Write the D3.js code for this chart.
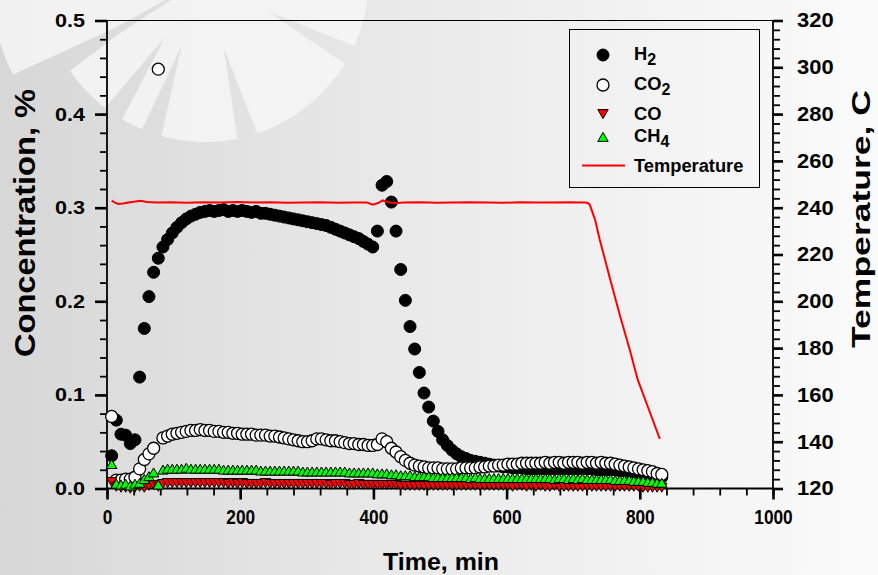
<!DOCTYPE html>
<html>
<head>
<meta charset="utf-8">
<script src="https://cdn.jsdelivr.net/npm/d3@7"></script>
<style>
  html, body { margin: 0; padding: 0; background: #e6e6e6; }
  svg { display: block; }
  text { font-family: "Liberation Sans", Arial, sans-serif; font-weight: bold; fill: #000; }
</style>
</head>
<body>
<svg id="chart" width="878" height="575"></svg>
<script>
// Sampling times of the gas analyser, min
const time = [
  7, 14, 21, 28, 35, 42, 49, 56, 63, 70,
  77, 84, 91, 98, 105, 112, 119, 126, 133, 140,
  147, 154, 161, 168, 175, 182, 189, 196, 203, 210,
  217, 224, 231, 238, 245, 252, 259, 266, 273, 280,
  287, 294, 301, 308, 315, 322, 329, 336, 343, 350,
  357, 364, 371, 378, 385, 392, 399, 406, 413, 420,
  427, 434, 441, 448, 455, 462, 469, 476, 483, 490,
  497, 504, 511, 518, 525, 532, 539, 546, 553, 560,
  567, 574, 581, 588, 595, 602, 609, 616, 623, 630,
  637, 644, 651, 658, 665, 672, 679, 686, 693, 700,
  707, 714, 721, 728, 735, 742, 749, 756, 763, 770,
  777, 784, 791, 798, 805, 812, 819, 826, 833
];

// Gas concentrations, %
const h2 = [
  0.035, 0.073, 0.058, 0.057, 0.048, 0.052, 0.119, 0.171, 0.205, 0.231,
  0.246, 0.258, 0.266, 0.273, 0.279, 0.284, 0.288, 0.291, 0.293, 0.295,
  0.296, 0.297, 0.296, 0.297, 0.298, 0.296, 0.297, 0.296, 0.297, 0.296,
  0.295, 0.296, 0.294, 0.294, 0.293, 0.292, 0.291, 0.290, 0.289, 0.288,
  0.287, 0.286, 0.285, 0.284, 0.283, 0.282, 0.281, 0.279, 0.277, 0.275,
  0.273, 0.271, 0.269, 0.267, 0.264, 0.261, 0.258, 0.275, 0.324, 0.328,
  0.306, 0.275, 0.234, 0.201, 0.173, 0.149, 0.124, 0.102, 0.087, 0.072,
  0.061, 0.052, 0.046, 0.041, 0.037, 0.034, 0.032, 0.030, 0.029, 0.028,
  0.027, 0.026, 0.025, 0.024, 0.023, 0.023, 0.022, 0.022, 0.022, 0.021,
  0.021, 0.021, 0.021, 0.021, 0.021, 0.021, 0.021, 0.021, 0.021, 0.021,
  0.021, 0.021, 0.021, 0.021, 0.020, 0.020, 0.020, 0.020, 0.020, 0.019,
  0.019, 0.018, 0.018, 0.017, 0.016, 0.015, 0.014, 0.013, 0.012
];

const co2 = [
  0.077, 0.009, 0.009, 0.010, 0.010, 0.012, 0.021, 0.031, 0.037, 0.043,
  0.448, 0.054, 0.056, 0.058, 0.059, 0.060, 0.061, 0.062, 0.062, 0.063,
  0.062, 0.062, 0.061, 0.061, 0.060, 0.060, 0.059, 0.059, 0.058, 0.058,
  0.058, 0.057, 0.057, 0.057, 0.056, 0.056, 0.055, 0.054, 0.053, 0.052,
  0.051, 0.050, 0.050, 0.051, 0.053, 0.053, 0.052, 0.051, 0.051, 0.050,
  0.049, 0.048, 0.048, 0.047, 0.047, 0.046, 0.046, 0.047, 0.053, 0.050,
  0.043, 0.039, 0.034, 0.030, 0.027, 0.025, 0.024, 0.023, 0.022, 0.022,
  0.022, 0.021, 0.021, 0.021, 0.021, 0.022, 0.022, 0.022, 0.022, 0.023,
  0.023, 0.024, 0.024, 0.025, 0.025, 0.026, 0.026, 0.026, 0.027, 0.027,
  0.027, 0.027, 0.027, 0.028, 0.027, 0.028, 0.028, 0.027, 0.028, 0.028,
  0.028, 0.027, 0.028, 0.028, 0.027, 0.028, 0.027, 0.027, 0.026, 0.025,
  0.024, 0.023, 0.022, 0.021, 0.020, 0.019, 0.018, 0.016, 0.015
];

const co = [
  0.008, 0.003, 0.002, 0.002, 0.001, 0.002, 0.003, 0.002, 0.004, 0.005,
  0.003, 0.006, 0.007, 0.007, 0.007, 0.007, 0.007, 0.007, 0.007, 0.007,
  0.007, 0.007, 0.007, 0.007, 0.007, 0.006, 0.007, 0.006, 0.007, 0.006,
  0.006, 0.006, 0.006, 0.007, 0.006, 0.006, 0.006, 0.006, 0.006, 0.006,
  0.006, 0.006, 0.006, 0.006, 0.006, 0.006, 0.006, 0.005, 0.006, 0.006,
  0.006, 0.005, 0.005, 0.006, 0.005, 0.005, 0.005, 0.005, 0.005, 0.005,
  0.005, 0.005, 0.004, 0.004, 0.004, 0.004, 0.004, 0.004, 0.004, 0.004,
  0.004, 0.004, 0.004, 0.004, 0.004, 0.004, 0.004, 0.004, 0.004, 0.004,
  0.004, 0.004, 0.004, 0.004, 0.004, 0.004, 0.003, 0.004, 0.004, 0.003,
  0.004, 0.003, 0.004, 0.003, 0.003, 0.004, 0.003, 0.003, 0.003, 0.003,
  0.003, 0.003, 0.003, 0.003, 0.003, 0.003, 0.003, 0.003, 0.003, 0.003,
  0.003, 0.003, 0.003, 0.003, 0.002, 0.002, 0.002, 0.002, 0.002
];

const ch4 = [
  0.025, 0.004, 0.003, 0.004, 0.002, 0.004, 0.005, 0.009, 0.012, 0.016,
  0.003, 0.019, 0.020, 0.020, 0.020, 0.020, 0.021, 0.020, 0.020, 0.020,
  0.020, 0.020, 0.020, 0.020, 0.019, 0.019, 0.019, 0.019, 0.019, 0.019,
  0.019, 0.019, 0.018, 0.018, 0.018, 0.018, 0.018, 0.018, 0.018, 0.018,
  0.018, 0.017, 0.017, 0.017, 0.017, 0.017, 0.017, 0.017, 0.017, 0.017,
  0.017, 0.016, 0.016, 0.016, 0.016, 0.016, 0.016, 0.015, 0.015, 0.015,
  0.014, 0.014, 0.013, 0.013, 0.013, 0.012, 0.012, 0.012, 0.012, 0.011,
  0.011, 0.011, 0.011, 0.011, 0.011, 0.011, 0.011, 0.010, 0.011, 0.010,
  0.010, 0.010, 0.010, 0.010, 0.010, 0.010, 0.010, 0.010, 0.010, 0.010,
  0.010, 0.010, 0.010, 0.010, 0.010, 0.009, 0.010, 0.010, 0.009, 0.010,
  0.009, 0.010, 0.009, 0.009, 0.009, 0.009, 0.009, 0.009, 0.008, 0.008,
  0.008, 0.008, 0.007, 0.007, 0.007, 0.006, 0.006, 0.005, 0.005
];

// Reactor temperature log
const tempTime = [
  7, 12, 17, 24, 32, 40, 50, 60, 75, 95,
  120, 145, 170, 195, 220, 245, 270, 295, 320, 345,
  370, 390, 399, 407, 414, 422, 432, 445, 470, 495,
  520, 545, 570, 595, 620, 645, 670, 695, 710, 718,
  722, 725, 733, 740, 755, 770, 785, 797, 815, 830
];
const temperature = [
  243.0, 242.2, 241.6, 241.8, 242.2, 242.5, 243.0, 242.4, 242.2, 242.3,
  242.1, 242.3, 242.2, 242.4, 242.2, 242.3, 242.1, 242.2, 242.3, 242.1,
  242.2, 242.2, 241.3, 242.0, 243.1, 242.3, 241.9, 242.2, 242.3, 242.1,
  242.2, 242.3, 242.2, 242.1, 242.3, 242.2, 242.2, 242.3, 242.2, 242.2,
  242.0, 241.2, 234.7, 226.2, 210.0, 194.1, 179.2, 166.4, 152.7, 141.2
];

// Axis ticks
const xTicks = [0, 200, 400, 600, 800, 1000];
const yLeftTicks = [0.0, 0.1, 0.2, 0.3, 0.4, 0.5];
const yRightTicks = [120, 140, 160, 180, 200, 220, 240, 260, 280, 300, 320];

const W = 878, H = 575;
const plot = { left: 107, right: 773, top: 20.5, bottom: 488.5 };

const svg = d3.select("#chart");
const defs = svg.append("defs");

// Page background: soft left-to-right grey gradient
function greyStops(g) {
  g.append("stop").attr("offset", "0%").attr("stop-color", "#d7d7d7");
  g.append("stop").attr("offset", "50%").attr("stop-color", "#ebebeb");
  g.append("stop").attr("offset", "100%").attr("stop-color", "#fbfbfb");
}
defs.append("linearGradient")
  .attr("id", "bg").attr("gradientUnits", "userSpaceOnUse")
  .attr("x1", 0).attr("y1", 0).attr("x2", W).attr("y2", 0)
  .call(greyStops);
svg.append("rect").attr("width", W).attr("height", H).attr("fill", "url(#bg)");

// Decorative sunburst emblem in the top-left corner
const cx0 = 205, cy0 = -22;
defs.append("linearGradient")
  .attr("id", "bgEmblem").attr("gradientUnits", "userSpaceOnUse")
  .attr("x1", -cx0).attr("y1", 0).attr("x2", W - cx0).attr("y2", 0)
  .call(greyStops);
const emblem = svg.append("g").attr("transform", `translate(${cx0},${cy0})`);
const deg = Math.PI / 180;
emblem.append("path")
  .attr("d", d3.arc()({ innerRadius: 0, outerRadius: 164, startAngle: 95 * deg, endAngle: 237 * deg }))
  .attr("fill", "#f6f6f6").attr("fill-opacity", 0.85);
emblem.append("path")
  .attr("d", d3.arc()({ innerRadius: 0, outerRadius: 215, startAngle: 241 * deg, endAngle: 268 * deg }))
  .attr("fill", "#f6f6f6").attr("fill-opacity", 0.85);
const polar = (ang, r) => [r * Math.sin(ang * deg), -r * Math.cos(ang * deg)];
[118, 165, 199, 214, 239].forEach(a => {
  const pts = [polar(a, 72), polar(a - 4.5, 240), polar(a + 4.5, 240)];
  emblem.append("path")
    .attr("d", "M" + pts.map(q => q.join(",")).join("L") + "Z")
    .attr("fill", "url(#bgEmblem)");
});

// Scales
const x = d3.scaleLinear().domain([0, 1000]).range([plot.left, plot.right]);
const yL = d3.scaleLinear().domain([0, 0.5]).range([plot.bottom, plot.top]);
const yR = d3.scaleLinear().domain([120, 320]).range([plot.bottom, plot.top]);

function styleAxis(g, major, fontSize, widthOf) {
  g.select(".domain").remove();
  g.selectAll(".tick line").attr("stroke", "#000").attr("stroke-width", major ? 2.6 : 1.8);
  g.selectAll(".tick text")
    .attr("font-size", fontSize).attr("font-weight", "bold")
    .attr("font-family", "'Liberation Sans', Arial, sans-serif").attr("fill", "#000")
    .each(function () {
      if (!widthOf) return;
      const s = d3.select(this);
      s.attr("textLength", widthOf(s.text())).attr("lengthAdjust", "spacingAndGlyphs");
    });
}

// Minor ticks
svg.append("g").attr("transform", `translate(0,${plot.bottom})`)
  .call(d3.axisBottom(x).tickValues(d3.range(0, 1001, 40)).tickSize(7).tickFormat(""))
  .call(g => styleAxis(g, false));
svg.append("g").attr("transform", `translate(${plot.left},0)`)
  .call(d3.axisLeft(yL).tickValues(d3.range(0, 0.5001, 0.02)).tickSize(7).tickFormat(""))
  .call(g => styleAxis(g, false));
svg.append("g").attr("transform", `translate(${plot.right},0)`)
  .call(d3.axisRight(yR).tickValues(d3.range(120, 321, 4)).tickSize(7).tickFormat(""))
  .call(g => styleAxis(g, false));

// Major ticks with labels
svg.append("g").attr("transform", `translate(0,${plot.bottom})`)
  .call(d3.axisBottom(x).tickValues(xTicks).tickSize(11).tickPadding(10).tickFormat(d3.format("d")))
  .call(g => styleAxis(g, true, 20, s => s.length * 9.6));
svg.append("g").attr("transform", `translate(${plot.left},0)`)
  .call(d3.axisLeft(yL).tickValues(yLeftTicks).tickSize(12).tickPadding(10).tickFormat(d3.format(".1f")))
  .call(g => styleAxis(g, true, 19, () => 30));
svg.append("g").attr("transform", `translate(${plot.right},0)`)
  .call(d3.axisRight(yR).tickValues(yRightTicks).tickSize(10).tickPadding(14).tickFormat(d3.format("d")))
  .call(g => styleAxis(g, true, 20, s => s.length * 12.2));

// Frame: left, bottom, right axes and the thin top line
const frame = [
  [plot.left, plot.top, plot.left, plot.bottom, 1.8],
  [plot.right, plot.top, plot.right, plot.bottom, 1.8],
  [plot.left, plot.bottom, plot.right, plot.bottom, 1.8],
  [plot.left, plot.top, plot.right, plot.top, 1]
];
svg.append("g").selectAll("line").data(frame).join("line")
  .attr("x1", d => d[0]).attr("y1", d => d[1]).attr("x2", d => d[2]).attr("y2", d => d[3])
  .attr("stroke", "#000").attr("stroke-width", d => d[4]);

// Axis titles
svg.append("text").attr("x", 441).attr("y", 570).attr("text-anchor", "middle")
  .attr("font-size", 24).attr("textLength", 116).attr("lengthAdjust", "spacingAndGlyphs")
  .text("Time, min");
svg.append("text").attr("transform", "translate(35,223) rotate(-90)").attr("text-anchor", "middle")
  .attr("font-size", 29).attr("textLength", 268).attr("lengthAdjust", "spacingAndGlyphs")
  .text("Concentration, %");
svg.append("text").attr("transform", "translate(870,219) rotate(-90)").attr("text-anchor", "middle")
  .attr("font-size", 26).attr("textLength", 258).attr("lengthAdjust", "spacingAndGlyphs")
  .text("Temperature, C");

// Marker shapes
const triUp = "M0,-5.6L5.2,3.4L-5.2,3.4Z";
const triDown = "M0,5.6L5.2,-3.4L-5.2,-3.4Z";

const series = time.map((t, i) => ({ t, h2: h2[i], co2: co2[i], co: co[i], ch4: ch4[i] }));
const marks = svg.append("g");

marks.append("g").selectAll("circle").data(series).join("circle")
  .attr("cx", d => x(d.t)).attr("cy", d => yL(d.h2)).attr("r", 6)
  .attr("fill", "#000").attr("stroke", "#000").attr("stroke-width", 1);

marks.append("g").selectAll("circle").data(series).join("circle")
  .attr("cx", d => x(d.t)).attr("cy", d => yL(d.co2)).attr("r", 6)
  .attr("fill", "#fff").attr("stroke", "#000").attr("stroke-width", 1.3);

marks.append("g").selectAll("path").data(series).join("path")
  .attr("d", triDown).attr("transform", d => `translate(${x(d.t)},${yL(d.co)})`)
  .attr("fill", "#ff0000").attr("stroke", "#000").attr("stroke-width", 1);

marks.append("g").selectAll("path").data(series).join("path")
  .attr("d", triUp).attr("transform", d => `translate(${x(d.t)},${yL(d.ch4)})`)
  .attr("fill", "#00ff00").attr("stroke", "#000").attr("stroke-width", 1);

// Temperature on the right axis
const tempData = tempTime.map((t, i) => ({ t, v: temperature[i] }));
svg.append("path").datum(tempData)
  .attr("d", d3.line().x(d => x(d.t)).y(d => yR(d.v)))
  .attr("fill", "none").attr("stroke", "#ff0000").attr("stroke-width", 2);

// Legend
const lg = svg.append("g");
lg.append("rect").attr("x", 569.5).attr("y", 29.5).attr("width", 190).attr("height", 158)
  .attr("fill", "none").attr("stroke", "#000").attr("stroke-width", 1);
const lx = 603, tx = 634, fs = 18.3;
lg.append("circle").attr("cx", lx).attr("cy", 55).attr("r", 6).attr("fill", "#000").attr("stroke", "#000");
lg.append("circle").attr("cx", lx).attr("cy", 85).attr("r", 6).attr("fill", "#fff").attr("stroke", "#000").attr("stroke-width", 1.3);
lg.append("path").attr("d", triDown).attr("transform", `translate(${lx},113)`)
  .attr("fill", "#ff0000").attr("stroke", "#000");
lg.append("path").attr("d", triUp).attr("transform", `translate(${lx},138)`)
  .attr("fill", "#00ff00").attr("stroke", "#000");
lg.append("line").attr("x1", 582).attr("x2", 625).attr("y1", 165.5).attr("y2", 165.5)
  .attr("stroke", "#ff0000").attr("stroke-width", 2);

function legendLabel(y, main, sub) {
  const t = lg.append("text").attr("x", tx).attr("y", y).attr("font-size", fs);
  t.append("tspan").text(main);
  if (sub) t.append("tspan").attr("dy", 5).attr("font-size", 16).text(sub);
}
legendLabel(60, "H", "2");
legendLabel(90, "CO", "2");
legendLabel(119.5, "CO");
legendLabel(142, "CH", "4");
legendLabel(171.5, "Temperature");
</script>
</body>
</html>
